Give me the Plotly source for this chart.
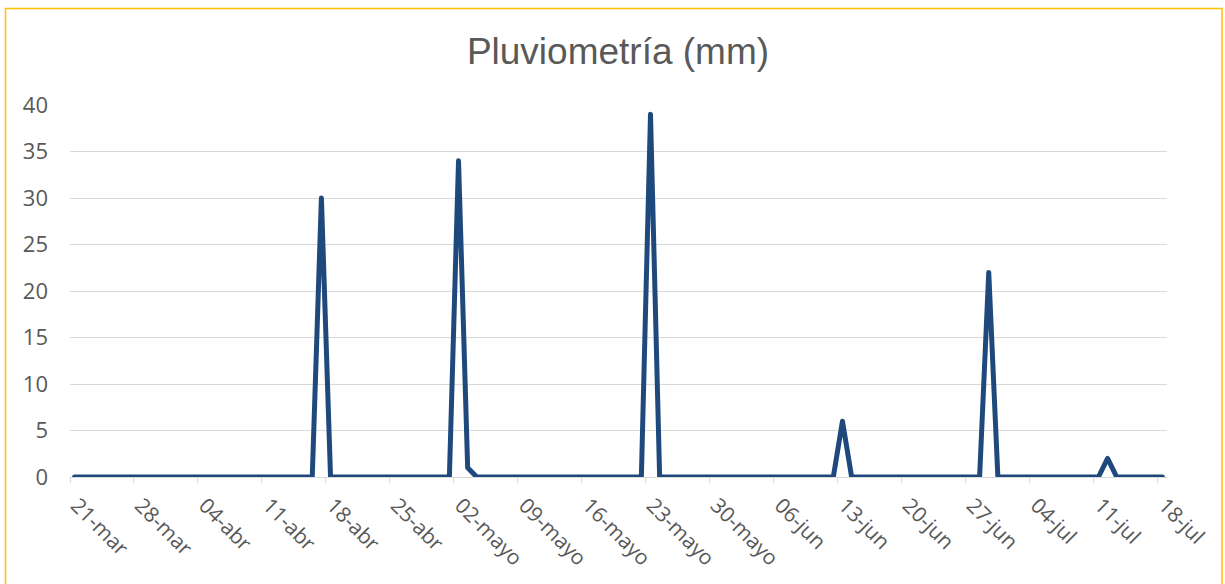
import pandas as pd
import plotly.graph_objects as go

# Daily dates 21-mar .. 18-jul
dates = pd.date_range("2021-03-21", "2021-07-18", freq="D")

# Daily rainfall (mm), 120 values
rain_mm = [
    0, 0, 0, 0, 0, 0, 0, 0, 0, 0,
    0, 0, 0, 0, 0, 0, 0, 0, 0, 0,
    0, 0, 0, 0, 0, 0, 0, 30, 0, 0,
    0, 0, 0, 0, 0, 0, 0, 0, 0, 0,
    0, 0, 34, 1, 0, 0, 0, 0, 0, 0,
    0, 0, 0, 0, 0, 0, 0, 0, 0, 0,
    0, 0, 0, 39, 0, 0, 0, 0, 0, 0,
    0, 0, 0, 0, 0, 0, 0, 0, 0, 0,
    0, 0, 0, 0, 6, 0, 0, 0, 0, 0,
    0, 0, 0, 0, 0, 0, 0, 0, 0, 0,
    22, 0, 0, 0, 0, 0, 0, 0, 0, 0,
    0, 0, 0, 2, 0, 0, 0, 0, 0, 0,
]

tick_dates = ["2021-03-21", "2021-03-28", "2021-04-04", "2021-04-11", "2021-04-18",
              "2021-04-25", "2021-05-02", "2021-05-09", "2021-05-16", "2021-05-23",
              "2021-05-30", "2021-06-06", "2021-06-13", "2021-06-20", "2021-06-27",
              "2021-07-04", "2021-07-11", "2021-07-18"]
tick_labels = ["21-mar", "28-mar", "04-abr", "11-abr", "18-abr", "25-abr", "02-mayo",
               "09-mayo", "16-mayo", "23-mayo", "30-mayo", "06-jun", "13-jun", "20-jun",
               "27-jun", "04-jul", "11-jul", "18-jul"]
y_ticks = [0, 5, 10, 15, 20, 25, 30, 35, 40]

title_text = "Pluviometría (mm)"

half_day = pd.Timedelta(hours=12)
tick_marks = [pd.Timestamp(d) - half_day for d in tick_dates]
label_pos = [pd.Timestamp(d) + pd.Timedelta(hours=6) for d in tick_dates]
x_range = [dates[0] - half_day, dates[-1] + half_day]

fig = go.Figure()
# invisible helper trace so the label axis is drawn
fig.add_trace(go.Scatter(
    x=dates, y=rain_mm, mode="lines", xaxis="x2",
    line=dict(color="rgba(0,0,0,0)", width=0), hoverinfo="skip",
))
fig.add_trace(go.Scatter(
    x=dates, y=rain_mm, mode="lines",
    line=dict(color="#1F497D", width=5),
    hoverinfo="x+y",
))

font_family = "Open Sans, sans-serif"
fig.update_layout(
    width=1225, height=584,
    margin=dict(l=70, r=58, t=105, b=107),
    paper_bgcolor="white", plot_bgcolor="white",
    showlegend=False,
    title=dict(text=title_text, x=618 / 1225, xanchor="center", y=1 - 51 / 584, yanchor="middle",
               font=dict(family="Liberation Sans, Arial, sans-serif", size=37, color="#595959")),
    font=dict(family=font_family, color="#595959"),
    xaxis=dict(
        type="date", range=x_range, automargin=False,
        tickmode="array", tickvals=tick_marks, ticktext=[""] * len(tick_marks),
        ticks="outside", ticklen=5, tickcolor="#D9D9D9", tickwidth=1,
        showgrid=False, showline=True, linecolor="#D9D9D9", linewidth=1,
        zeroline=False,
    ),
    xaxis2=dict(
        type="date", range=x_range, overlaying="x", anchor="y", side="bottom",
        automargin=False,
        tickmode="array", tickvals=label_pos, ticktext=tick_labels,
        tickangle=45, tickfont=dict(size=21, color="#595959"),
        ticks="", ticklabelstandoff=11,
        showgrid=False, showline=False, zeroline=False,
    ),
    yaxis=dict(
        range=[0, 40], tickmode="array", tickvals=y_ticks, automargin=False,
        tickfont=dict(size=22, color="#595959"),
        showgrid=True, gridcolor="#D9D9D9", gridwidth=1,
        zeroline=False, showline=False, ticklabelstandoff=21,
    ),
    shapes=[dict(
        type="rect", xref="paper", yref="paper",
        x0=(5.5 - 70) / 1097, x1=(1222 - 70) / 1097,
        y0=(477 - 600) / 372, y1=(477 - 8.5) / 372,
        line=dict(color="#FFC000", width=1.5), fillcolor="rgba(0,0,0,0)", layer="below",
    )],
)

fig.write_html(
    "out.html",
    config={"displayModeBar": False},
    post_script="document.body.style.margin='0';"
                "document.querySelectorAll('.scatterlayer path.js-line').forEach(function(p){"
                "p.style.strokeLinejoin='round';p.style.strokeLinecap='round';});",
)
